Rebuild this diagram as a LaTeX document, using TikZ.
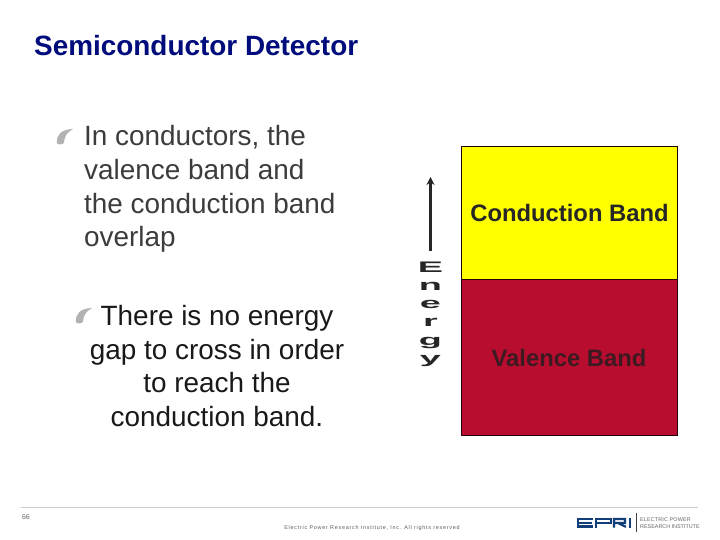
\documentclass[tikz,border=0pt]{standalone}
\usepackage{fontspec}
\setmainfont{Liberation Sans}
\usetikzlibrary{arrows.meta}
\definecolor{navy}{HTML}{000C7C}
\definecolor{bandred}{HTML}{B80D2E}
\definecolor{bandyellow}{HTML}{FFFF00}
\definecolor{bodygray}{HTML}{3C3C3C}
\definecolor{vtext}{HTML}{3D1A22}
\definecolor{logoblue}{HTML}{123F7A}
\tikzset{
  x=1pt,y=-1pt,
  band/.style={draw=black!80!bandred,line width=0.8pt,minimum width=216pt,anchor=north west,inner sep=0pt},
  bandtext/.style={font=\fontsize{23.8}{26}\selectfont\bfseries,inner sep=0pt},
  bodyfirst/.style={font=\fontsize{27.9}{33.6}\selectfont,text=bodygray,align=left,anchor=north west,inner sep=0pt},
  bodysecond/.style={font=\fontsize{27.9}{33.6}\selectfont,text=black!90,align=center,anchor=north,inner sep=0pt},
  eletter/.style={font=\fontsize{18}{18}\selectfont\bfseries,text=black!85,inner sep=0pt,anchor=base},
  swoosh/.style={fill=black!30,draw=none},
  logostroke/.style={draw=logoblue,line width=2.1pt,line cap=butt,line join=miter},
  smallfoot/.style={font=\fontsize{5.4}{7}\selectfont,text=black!65,inner sep=0pt},
}
\newcommand{\bulletmark}[2]{%
  \fill[swoosh,shift={(#1,#2)}] (-8,6.5) .. controls (-9,-2) and (-4,-7.5) .. (8,-8)
    .. controls (3,-5) and (-0.5,-2) .. (-1,6) .. controls (-3,8) and (-6,8) .. (-8,6.5) -- cycle;}
\begin{document}
\begin{tikzpicture}
\useasboundingbox (0,0) rectangle (720,540);
\fill[white] (0,0) rectangle (720,540);
\node[font=\fontsize{27.9}{30}\selectfont\bfseries,text=navy,anchor=base west,inner sep=0pt] (title) at (34,56) {Semiconductor Detector};

\bulletmark{65}{137}
\node[bodyfirst] (first) at (84,125.5) {In conductors, the\\valence band and\\the conduction band\\overlap};
\bulletmark{84}{316}
\node[bodysecond] (second) at (217,305) {There is no energy\\gap to cross in order\\to reach the\\conduction band.};

\node[band,fill=bandyellow,minimum height=132pt] (cond) at (461,146.5) {};
\node[band,fill=bandred,minimum height=156.5pt] (val) at (461,278.5) {};
\node[bandtext,text=black!85] (condt) at (569.5,213) {Conduction Band};
\node[bandtext,text=vtext] (valt) at (569,358) {Valence Band};

\coordinate (abot) at (430.5,251);
\coordinate (atop) at (430.5,177);
\draw[line width=2.2pt,black!85,-{Stealth[length=8pt,width=8pt]}] (abot) -- (atop);
\node[eletter] (e1) at (430.5,272) {\scalebox{2.1}[0.85]{E}};
\node[eletter] (e2) at (430.5,290.5) {\scalebox{2.1}[0.85]{n}};
\node[eletter] (e3) at (430.5,308.5) {\scalebox{2.1}[0.85]{e}};
\node[eletter] (e4) at (430.5,326.5) {\scalebox{2.1}[0.85]{r}};
\node[eletter] (e5) at (430.5,345) {\scalebox{2.1}[0.85]{g}};
\node[eletter] (e6) at (430.5,363) {\scalebox{2.1}[0.85]{y}};

\coordinate (ruleL) at (21,507.5);
\coordinate (ruleR) at (698,507.5);
\draw[black!20,line width=0.9pt] (ruleL) -- (ruleR);
\node[font=\fontsize{7}{8}\selectfont,text=black!60,inner sep=0pt] (page) at (26,517.5) {66};
\node[smallfoot,anchor=base] (copy) at (372,529) {\addfontfeatures{LetterSpace=14}Electric Power Research Institute, Inc. All rights reserved};

% EPRI logo
\draw[logostroke] (593,519) -- (578,519) -- (578,526.5) -- (593,526.5) (578,522.7) -- (592,522.7);
\draw[logostroke] (596,527.5) -- (596,519) -- (611,519) -- (611,523) -- (596,523);
\draw[logostroke] (614,527.5) -- (614,519) -- (625,519) -- (625,523) -- (615,523) (618,523) -- (625,526.5) -- (626,526.5);
\draw[logostroke] (630,518) -- (630,527.5);
\coordinate (sepT) at (636,513);
\coordinate (sepB) at (636,532);
\draw[black!75,line width=0.7pt] (sepT) -- (sepB);
\node[smallfoot,anchor=west,text=black!60] (l1) at (640,520) {\addfontfeatures{LetterSpace=3}ELECTRIC POWER};
\node[smallfoot,anchor=west,text=black!60] (l2) at (640,527) {RESEARCH INSTITUTE};
\end{tikzpicture}
\end{document}
